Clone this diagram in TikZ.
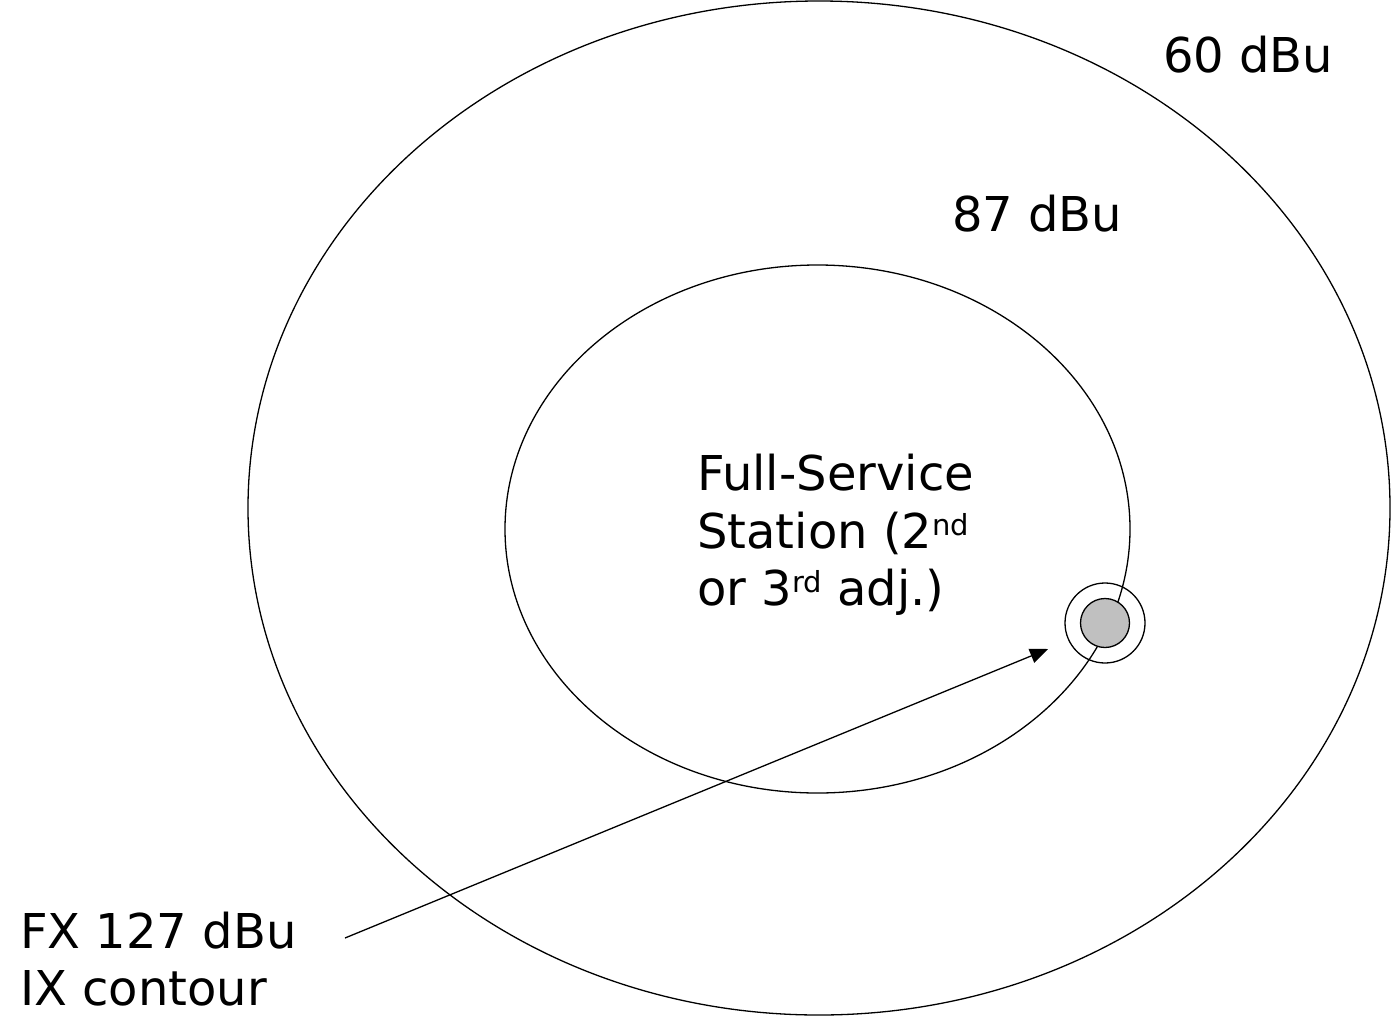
\documentclass[tikz,border=0pt]{standalone}
\usepackage{fontspec}
\setmainfont{DejaVu Sans}
\usetikzlibrary{arrows.meta}
\tikzset{
  contour/.style={draw=black,line width=1.3pt},
  lbl/.style={inner sep=0pt,anchor=base west,font=\fontsize{48}{58}\selectfont},
}
\newcommand{\supx}[1]{\raisebox{13pt}{\fontsize{29}{29}\selectfont #1}}
\begin{document}
\begin{tikzpicture}[x=1pt,y=-1pt]
\useasboundingbox (0,0) rectangle (1391,1017);
\draw[contour] (819,508) ellipse [x radius=571, y radius=507];
\draw[contour] (817.5,529) ellipse [x radius=312.5, y radius=264];
\node[contour,circle,minimum size=80pt,inner sep=0pt] (ring) at (1105,623) {};
\node[contour,circle,fill={rgb,255:red,192;green,192;blue,192},minimum size=49pt,inner sep=0pt] (fx) at (1105,623) {};
\node[lbl] (l60) at (1163,72) {60 dBu};
\node[lbl] (l87) at (952,231) {87 dBu};
\node[lbl] (fs1) at (697,490) {Full-Service};
\node[lbl] (fs2) at (697,548) {Station (2\supx{nd}};
\node[lbl] (fs3) at (697,605) {or 3\supx{rd} adj.)};
\node[lbl] (fx1) at (20,948) {FX 127 dBu};
\node[lbl] (fx2) at (20,1005) {IX contour};
\coordinate (astart) at (345,938);
\coordinate (atip) at (1048,649);
\draw[line width=1.3pt,-{Triangle[length=18pt,width=15pt]}] (astart) -- (atip);
\end{tikzpicture}
\end{document}
